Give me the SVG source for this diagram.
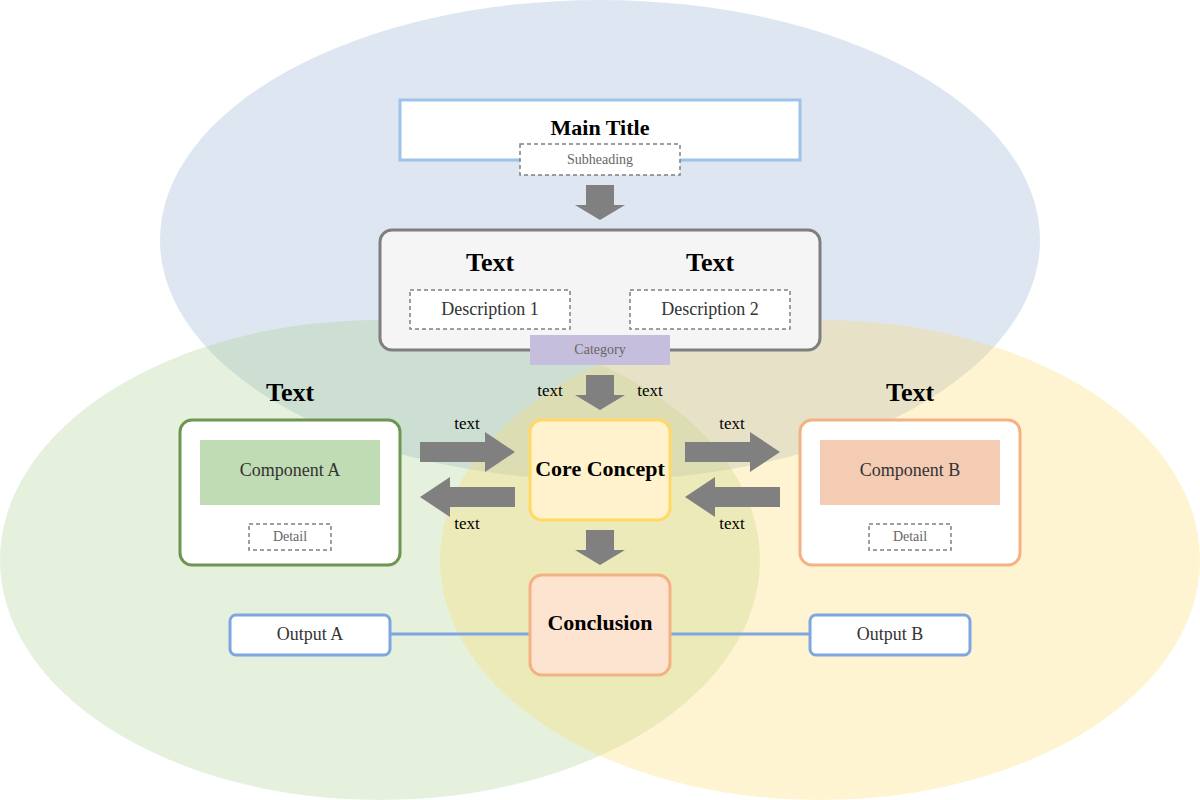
<svg xmlns="http://www.w3.org/2000/svg" width="1200" height="800" viewBox="0 0 1200 800">
<style>
.serif{font-family:"Liberation Serif","Times New Roman",serif;}
.h{font-size:26px;font-weight:bold;fill:#000;text-anchor:middle;}
.lbl{font-size:17px;fill:#000;text-anchor:middle;}
.sm{font-size:14px;fill:#666;text-anchor:middle;}
.md{font-size:18px;fill:#333;text-anchor:middle;}
.dash{fill:#fff;stroke:#808080;stroke-width:1.5;stroke-dasharray:4,3;}
.arrow{fill:#808080;}
.link{stroke:#7ea6e0;stroke-width:3;fill:none;}
</style>
<rect width="1200" height="800" fill="#fff"/>
<g id="venn">
<ellipse cx="600" cy="240" rx="440" ry="240" fill="#8fabd0" fill-opacity="0.3"/>
<ellipse cx="380" cy="560" rx="380" ry="240" fill="#a9d18e" fill-opacity="0.3"/>
<ellipse cx="820" cy="560" rx="380" ry="240" fill="#ffd966" fill-opacity="0.3"/>
</g>
<g id="connectors">
<path class="arrow" d="M586,185 H614 V205 H625 L600,220 L575,205 H586 Z"/>
<path class="arrow" d="M586,375 H614 V395 H625 L600,410 L575,395 H586 Z"/>
<path class="arrow" d="M586,530 H614 V550 H625 L600,565 L575,550 H586 Z"/>
<path class="arrow" d="M420,442 H485 V432 L515,452 L485,472 V462 H420 Z"/>
<path class="arrow" d="M515,487 H450 V477 L420,497 L450,517 V507 H515 Z"/>
<path class="arrow" d="M685,442 H750 V432 L780,452 L750,472 V462 H685 Z"/>
<path class="arrow" d="M780,487 H715 V477 L685,497 L715,517 V507 H780 Z"/>
<line class="link" x1="390" y1="634" x2="530" y2="634"/>
<line class="link" x1="670" y1="634" x2="810" y2="634"/>
<text class="serif lbl" x="550" y="396">text</text>
<text class="serif lbl" x="650" y="396">text</text>
<text class="serif lbl" x="467" y="429">text</text>
<text class="serif lbl" x="467" y="529">text</text>
<text class="serif lbl" x="732" y="429">text</text>
<text class="serif lbl" x="732" y="529">text</text>
</g>
<g id="title">
<rect x="400" y="100" width="400" height="60" fill="#fff" stroke="#9dc3e6" stroke-width="3"/>
<text class="serif" x="600" y="135" font-size="22" font-weight="bold" text-anchor="middle">Main Title</text>
<rect class="dash" x="520" y="144" width="160" height="31"/>
<text class="serif sm" x="600" y="164">Subheading</text>
</g>
<g id="textbox">
<rect x="380" y="230" width="440" height="120" rx="12" fill="#f5f5f5" stroke="#7f7f7f" stroke-width="3"/>
<text class="serif h" x="490" y="271">Text</text>
<text class="serif h" x="710" y="271">Text</text>
<rect class="dash" x="410" y="290" width="160" height="39"/>
<text class="serif md" x="490" y="315">Description 1</text>
<rect class="dash" x="630" y="290" width="160" height="39"/>
<text class="serif md" x="710" y="315">Description 2</text>
</g>
<g id="category">
<rect x="530" y="335" width="140" height="30" fill="#c5bfdd"/>
<text class="serif sm" x="600" y="354">Category</text>
</g>
<g id="core">
<rect x="530" y="420" width="140" height="100" rx="12" fill="#fff2cc" stroke="#ffd966" stroke-width="3"/>
<text class="serif" x="600" y="476" font-size="22" font-weight="bold" text-anchor="middle">Core Concept</text>
</g>
<g id="compA">
<text class="serif h" x="290" y="401">Text</text>
<rect x="180" y="420" width="220" height="145" rx="12" fill="#fff" stroke="#6e9653" stroke-width="3"/>
<rect x="200" y="440" width="180" height="65" fill="#c0dcb4"/>
<text class="serif md" x="290" y="476">Component A</text>
<rect class="dash" x="249" y="524" width="82" height="26"/>
<text class="serif sm" x="290" y="541">Detail</text>
</g>
<g id="compB">
<text class="serif h" x="910" y="401">Text</text>
<rect x="800" y="420" width="220" height="145" rx="12" fill="#fff" stroke="#f4b183" stroke-width="3"/>
<rect x="820" y="440" width="180" height="65" fill="#f4cbb3"/>
<text class="serif md" x="910" y="476">Component B</text>
<rect class="dash" x="869" y="524" width="82" height="26"/>
<text class="serif sm" x="910" y="541">Detail</text>
</g>
<g id="conclusion">
<rect x="530" y="575" width="140" height="100" rx="12" fill="#fce4d0" stroke="#f4b183" stroke-width="3"/>
<text class="serif" x="600" y="630" font-size="22" font-weight="bold" text-anchor="middle">Conclusion</text>
</g>
<g id="outputA">
<rect x="230" y="615" width="160" height="40" rx="6" fill="#fff" stroke="#7ea6e0" stroke-width="3"/>
<text class="serif md" x="310" y="640">Output A</text>
</g>
<g id="outputB">
<rect x="810" y="615" width="160" height="40" rx="6" fill="#fff" stroke="#7ea6e0" stroke-width="3"/>
<text class="serif md" x="890" y="640">Output B</text>
</g>
</svg>
